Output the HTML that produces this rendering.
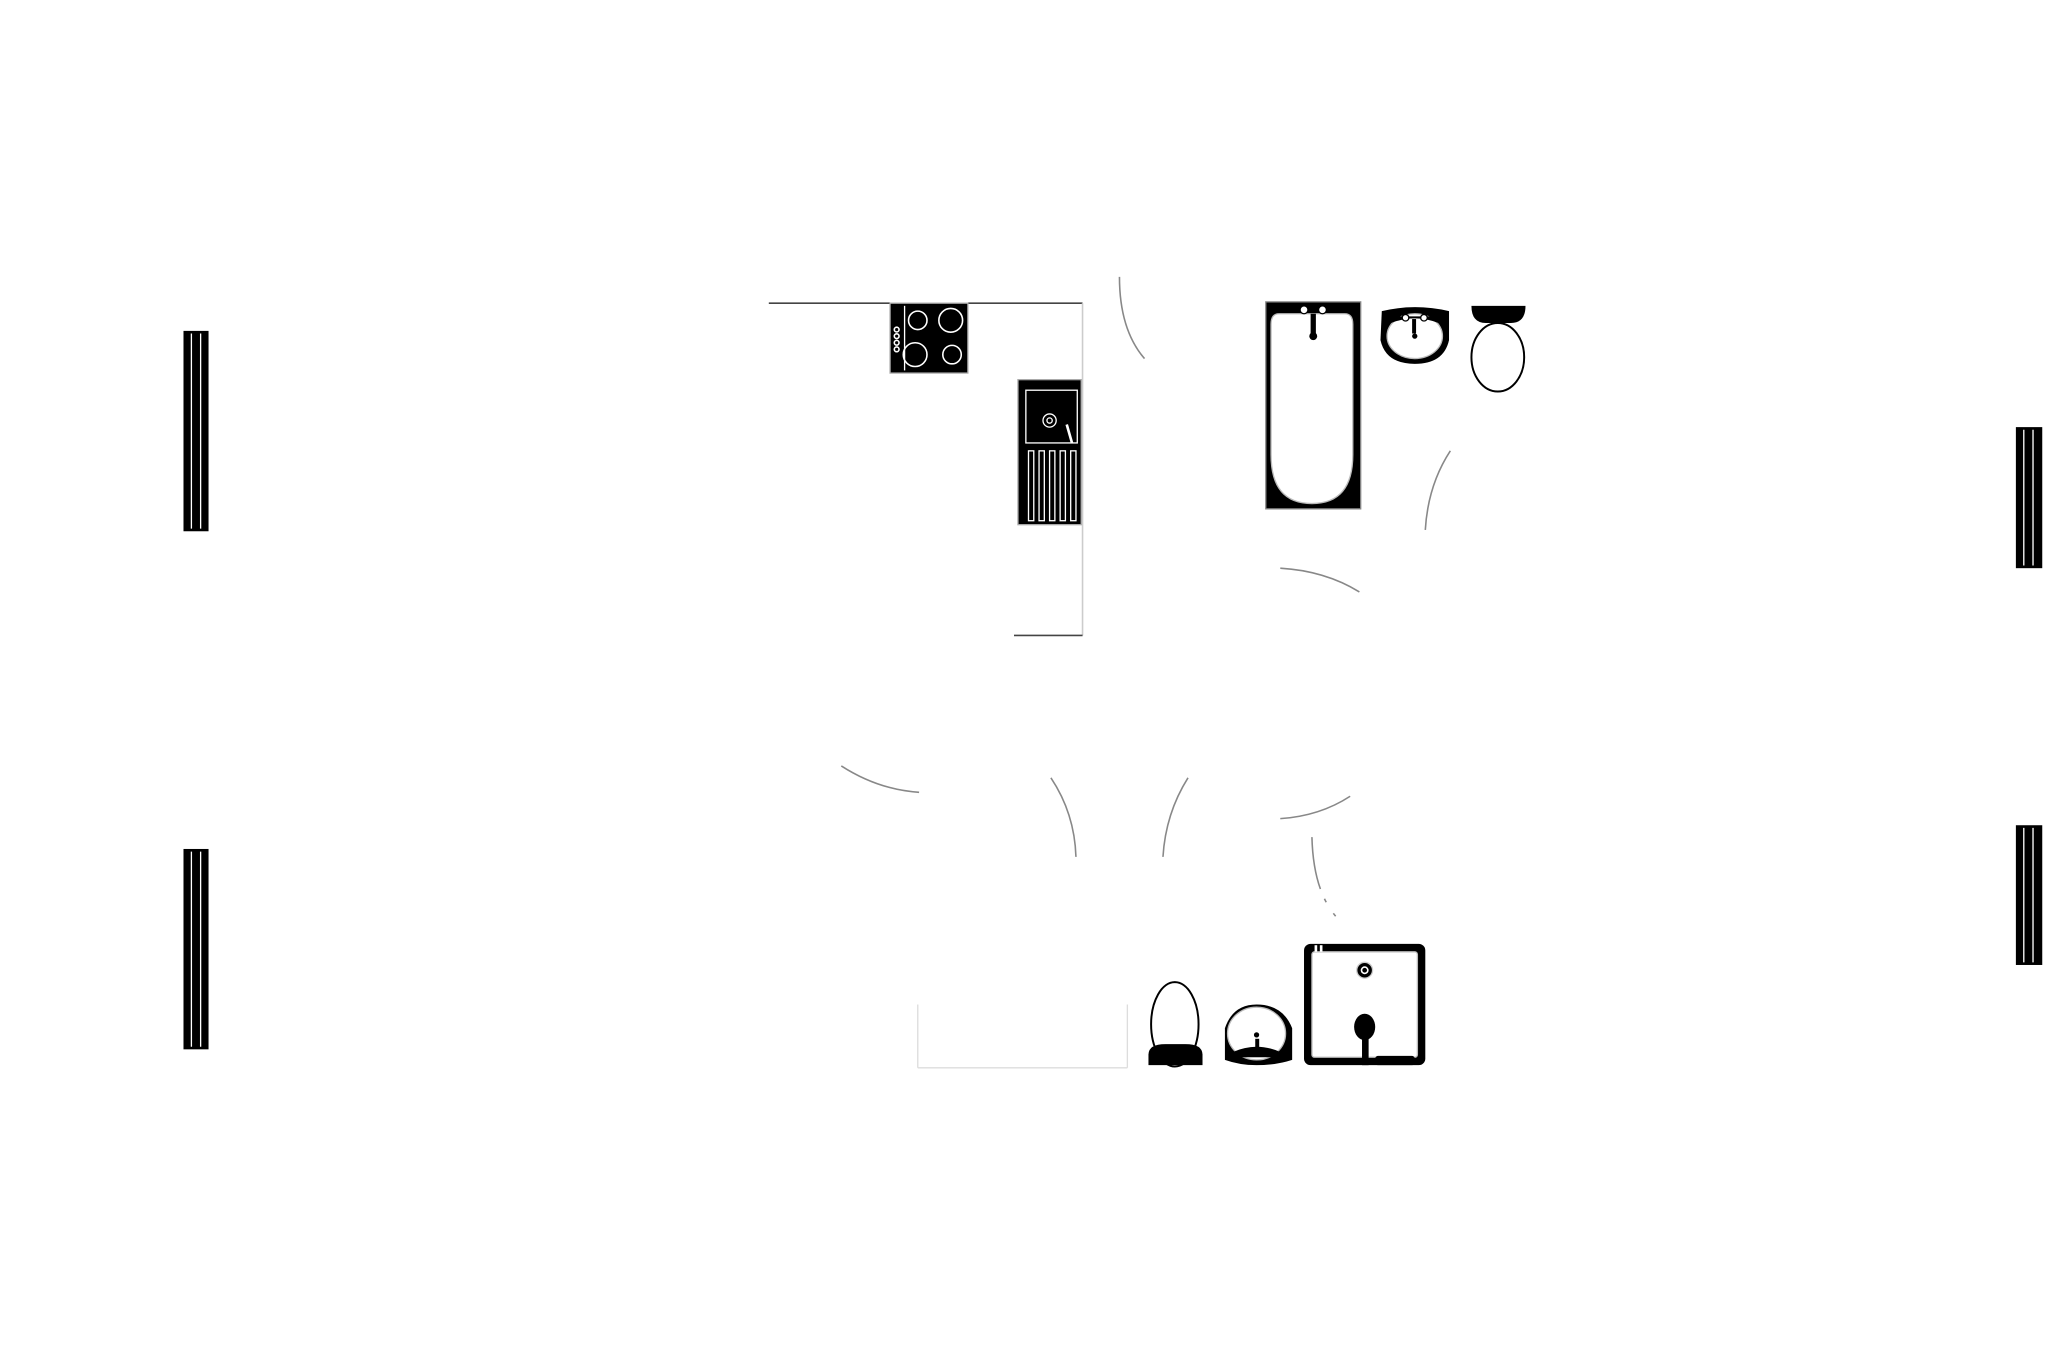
<!DOCTYPE html>
<html><head><meta charset="utf-8"><style>html,body{margin:0;padding:0;background:#fff}svg{display:block}</style></head>
<body>
<svg width="2057" height="1371" viewBox="0 0 1560 1040" xmlns="http://www.w3.org/2000/svg">
<rect width="1560" height="1040" fill="#fff"/>
<!-- wall bars -->
<g>
<rect x="139" y="251" width="19" height="152" fill="#000"/><line x1="145" y1="253" x2="145" y2="401" stroke="#fff" stroke-width="1"/><line x1="152" y1="253" x2="152" y2="401" stroke="#fff" stroke-width="1"/>
<rect x="139" y="644" width="19" height="152" fill="#000"/><line x1="145" y1="646" x2="145" y2="794" stroke="#fff" stroke-width="1"/><line x1="152" y1="646" x2="152" y2="794" stroke="#fff" stroke-width="1"/>
<rect x="1529" y="324" width="20" height="107" fill="#000"/><line x1="1535" y1="326" x2="1535" y2="429" stroke="#fff"/><line x1="1542" y1="326" x2="1542" y2="429" stroke="#fff"/>
<rect x="1529" y="626" width="20" height="106" fill="#000"/><line x1="1535" y1="628" x2="1535" y2="730" stroke="#fff"/><line x1="1542" y1="628" x2="1542" y2="730" stroke="#fff"/>
</g>
<!-- kitchen counter -->
<g stroke="#444" stroke-width="1.2" fill="none">
<line x1="583" y1="230" x2="675" y2="230"/><line x1="734" y1="230" x2="821" y2="230"/>
<line x1="821" y1="230" x2="821" y2="482" stroke="#ccc"/>
<line x1="769" y1="482" x2="821" y2="482"/>
</g>
<!-- hob -->
<rect x="675" y="230" width="59" height="53" fill="#000" stroke="#aaa"/>
<line x1="686" y1="232" x2="686" y2="281" stroke="#fff"/>
<g fill="none" stroke="#fff" stroke-width="1.2">
<circle cx="696" cy="243" r="7"/><circle cx="721" cy="243" r="9"/><circle cx="694" cy="269" r="9"/><circle cx="722" cy="269" r="7"/>
<circle cx="680" cy="250" r="1.8"/><circle cx="680" cy="255" r="1.8"/><circle cx="680" cy="260" r="1.8"/><circle cx="680" cy="265" r="1.8"/>
</g>
<!-- sink -->
<rect x="772" y="288" width="48" height="110" fill="#000" stroke="#aaa"/>
<g fill="none" stroke="#fff" stroke-width="1">
<rect x="778" y="296" width="39" height="40"/>
<circle cx="796" cy="319" r="5"/><circle cx="796" cy="319" r="2"/>
<path d="M809 322 L813 336" stroke-width="2"/>
<rect x="780" y="342" width="4" height="53"/><rect x="788" y="342" width="4" height="53"/><rect x="796" y="342" width="4" height="53"/><rect x="804" y="342" width="4" height="53"/><rect x="812" y="342" width="4" height="53"/>
</g>
<!-- door arcs -->
<g fill="none" stroke="#888" stroke-width="1.2">
<path d="M849 210 Q849 250 868 272"/>
<path d="M1100 342 Q1083 368 1081 402"/>
<path d="M971 431 Q1005 433 1031 449"/>
<path d="M638 581 Q666 599 697 601"/>
<path d="M797 590 Q815 617 816 650"/>
<path d="M901 590 Q884 617 882 650"/>
<path d="M971 621 Q1001 619 1024 604"/>
<path d="M995 635 Q996 675 1013 695" stroke-dasharray="40 8 3 10"/>
</g>
<!-- bath -->
<rect x="960" y="229" width="72" height="157" fill="#000" stroke="#888"/>
<path d="M970 238 H1020 Q1026 238 1026 246 V345 Q1026 382 995 382 Q964 382 964 345 V246 Q964 238 970 238 Z" fill="#fff" stroke="#bbb"/>
<rect x="994" y="238" width="4" height="15" fill="#000"/>
<circle cx="996" cy="255" r="3" fill="#000"/>
<circle cx="989" cy="235" r="3" fill="#fff" stroke="#000"/><circle cx="1003" cy="235" r="3" fill="#fff" stroke="#000"/>
<!-- basin -->
<path d="M1048 236 Q1073 230 1099 236 L1099 258 Q1095 276 1073 276 Q1051 276 1047 258 Z" fill="#000"/>
<ellipse cx="1073" cy="255" rx="21" ry="17" fill="#fff" stroke="#bbb"/>
<path d="M1055 245 Q1073 238 1091 245 L1091 240 L1055 240 Z" fill="#000"/>
<rect x="1071" y="242" width="3" height="11" fill="#000"/><circle cx="1073" cy="255" r="2" fill="#000"/>
<circle cx="1066" cy="241" r="2.5" fill="#fff" stroke="#000"/><circle cx="1080" cy="241" r="2.5" fill="#fff" stroke="#000"/>
<!-- toilet -->
<path d="M1116 232 H1157 Q1157 245 1146 245 H1127 Q1116 245 1116 232 Z" fill="#000"/>
<ellipse cx="1136" cy="271" rx="20" ry="26" fill="#fff" stroke="#000" stroke-width="1.5"/>
<!-- bottom counter -->
<g stroke="#ddd" fill="none"><line x1="696" y1="762" x2="696" y2="810"/><line x1="696" y1="810" x2="855" y2="810"/><line x1="855" y1="762" x2="855" y2="810"/></g>
<!-- bottom toilet -->
<ellipse cx="891" cy="777" rx="18" ry="32" fill="#fff" stroke="#000" stroke-width="1.5"/>
<path d="M871 808 V800 Q871 792 884 792 H899 Q912 792 912 800 V808 Z" fill="#000"/>
<!-- bottom basin -->
<path d="M929 804 V780 Q935 762 953 762 Q973 762 980 780 V804 Q968 808 953 808 Q940 808 929 804 Z" fill="#000"/>
<ellipse cx="953" cy="784" rx="22" ry="20" fill="#fff" stroke="#bbb"/>
<path d="M935 798 Q953 790 971 798 L969 802 L937 802 Z" fill="#000"/>
<rect x="952" y="788" width="3" height="11" fill="#000"/><circle cx="953" cy="785" r="2" fill="#000"/>
<!-- shower -->
<rect x="989" y="716" width="92" height="92" rx="5" fill="#000"/>
<rect x="995" y="722" width="80" height="80" rx="2" fill="#fff" stroke="#bbb"/>
<rect x="997" y="717" width="2" height="5" fill="#fff"/><rect x="1001" y="717" width="2" height="5" fill="#fff"/>
<circle cx="1035" cy="736" r="6" fill="#000" stroke="#ccc"/><circle cx="1035" cy="736" r="3" fill="#fff"/><circle cx="1035" cy="736" r="1.8" fill="#000"/>
<ellipse cx="1035" cy="779" rx="8" ry="10" fill="#000"/>
<rect x="1033" y="787" width="5" height="21" fill="#000"/>
<rect x="1043" y="801" width="30" height="7" rx="2" fill="#000"/>
</svg>
</body></html>
